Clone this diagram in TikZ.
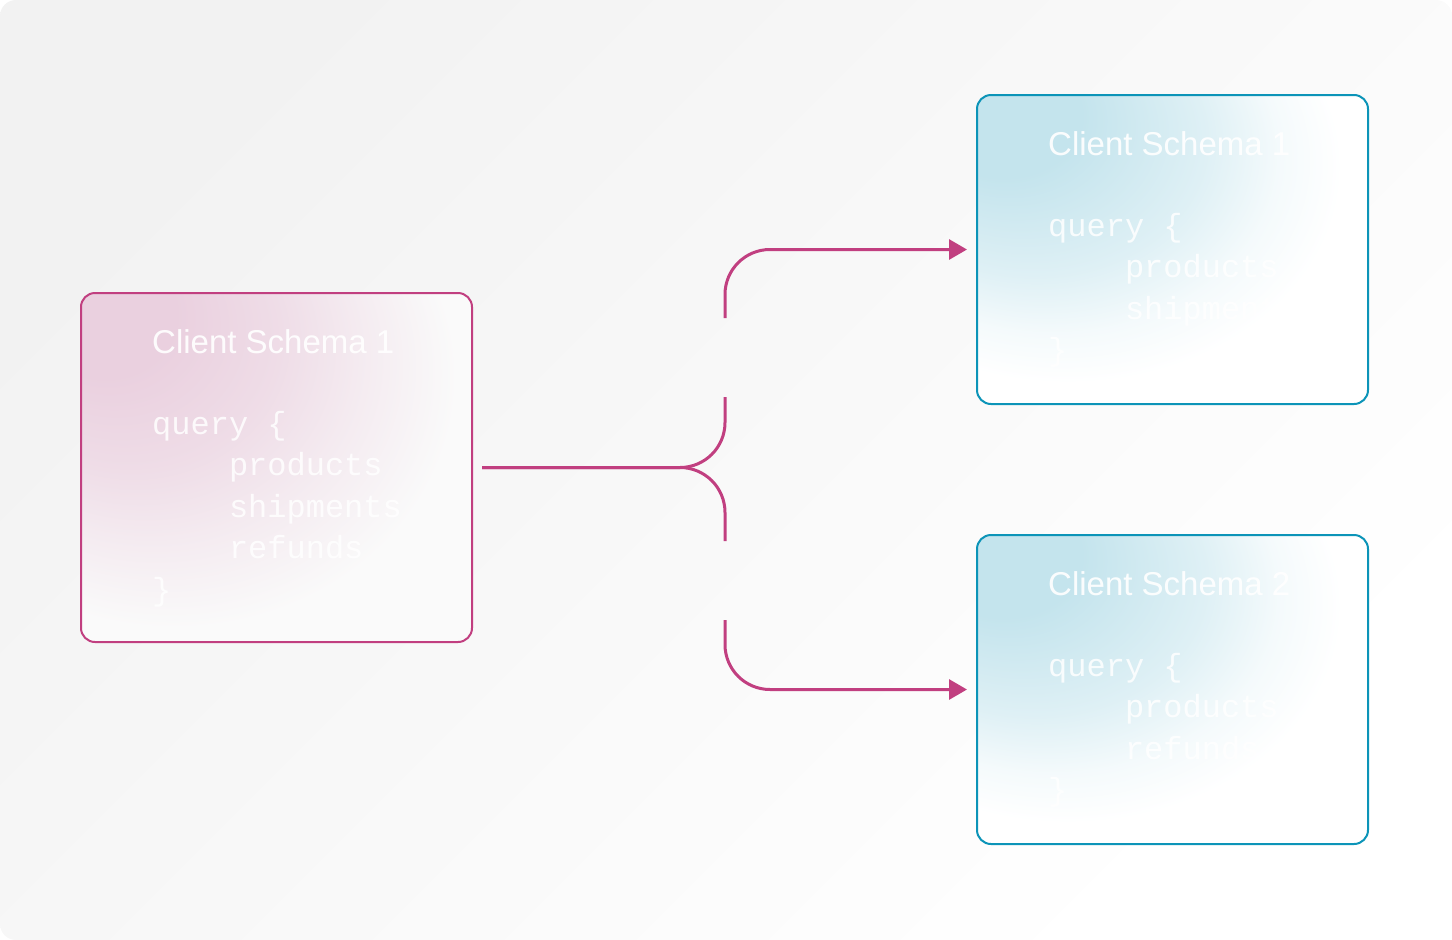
\documentclass[tikz,border=0pt]{standalone}
\usepackage{fontspec}
\usepackage{tikz}
\usetikzlibrary{arrows.meta}
\setmainfont{Liberation Sans}
\newfontfamily\codefont{Liberation Mono}
\definecolor{linkpink}{HTML}{C13F80}
\definecolor{boxteal}{HTML}{0C94B8}
\definecolor{fillpink}{HTML}{EAD0DF}
\definecolor{fillblue}{HTML}{C4E4ED}
\colorlet{pinkend}{black!2}
\colorlet{pinkhigh}{fillpink!70!pinkend}
\colorlet{pinklow}{fillpink!35!pinkend}
\colorlet{bluehigh}{fillblue!55!white}
\colorlet{bluelow}{fillblue!18!white}
\pgfdeclareradialshading{pinkfade}{\pgfpoint{-25bp}{25bp}}{color(0bp)=(fillpink); color(9bp)=(fillpink);
  color(19bp)=(pinkhigh); color(27bp)=(pinklow); color(36bp)=(pinkend); color(75bp)=(pinkend)}
\pgfdeclareradialshading{bluefade}{\pgfpoint{-25bp}{25bp}}{color(0bp)=(fillblue); color(10bp)=(fillblue);
  color(22bp)=(bluehigh); color(29bp)=(bluelow); color(35bp)=(white); color(75bp)=(white)}

\begin{document}
\begin{tikzpicture}[x=1pt,y=-1pt,
  schema/.style={rounded corners=14pt,line width=2pt,minimum width=391pt,inner sep=0pt},
  title/.style={anchor=base west,inner sep=0pt,text=white,text opacity=0.92,
    font=\fontsize{33}{40}\selectfont},
  code/.style={anchor=north west,align=left,inner sep=0pt,text=white,text opacity=0.85,
    font=\codefont\fontsize{32}{41.5}\selectfont},
  link/.style={draw=linkpink,line width=3pt,rounded corners=45pt}]

% Background
\shade[rounded corners=16pt,top color=black!5,bottom color=white,shading angle=45]
  (0,0) rectangle (1452,940);

% Schema boxes
\node[schema,draw=linkpink,minimum height=349pt,shading=pinkfade] (src) at (276.5,467.5) {};
\node[schema,draw=boxteal,minimum height=309pt,shading=bluefade] (dst1) at (1172.5,249.5) {};
\node[schema,draw=boxteal,minimum height=309pt,shading=bluefade] (dst2) at (1172.5,689.5) {};

% Texts in the boxes
\node[title] (srctitle) at ([shift={(72,61)}]src.north west) {Client Schema 1};
\node[code] (srccode) at ([shift={(72,113)}]src.north west)
  {\strut query \{\\\phantom{quer}products\\\phantom{quer}shipments\\\phantom{quer}refunds\\\}};
\node[title] (dst1title) at ([shift={(72,61)}]dst1.north west) {Client Schema 1};
\node[code] (dst1code) at ([shift={(72,113)}]dst1.north west)
  {\strut query \{\\\phantom{quer}products\\\phantom{quer}shipments\\\}};
\node[title] (dst2title) at ([shift={(72,61)}]dst2.north west) {Client Schema 2};
\node[code] (dst2code) at ([shift={(72,113)}]dst2.north west)
  {\strut query \{\\\phantom{quer}products\\\phantom{quer}refunds\\\}};

% Split point and gaps
\coordinate (fork) at (725,467.5);
\coordinate (upend) at (725,397);
\coordinate (upstart) at (725,318);
\coordinate (dnend) at (725,541);
\coordinate (dnstart) at (725,620);

% Links
\draw[link,shorten <=9pt] (src.east) -- (fork) -- (upend);
\draw[link,shorten <=9pt] (src.east) -- (fork) -- (dnend);
\draw[link,shorten >=9pt,-{Triangle[length=18pt,width=20pt]}] (upstart) |- (dst1.west);
\draw[link,shorten >=9pt,-{Triangle[length=18pt,width=20pt]}] (dnstart) |- (dst2.west);

\end{tikzpicture}
\end{document}
